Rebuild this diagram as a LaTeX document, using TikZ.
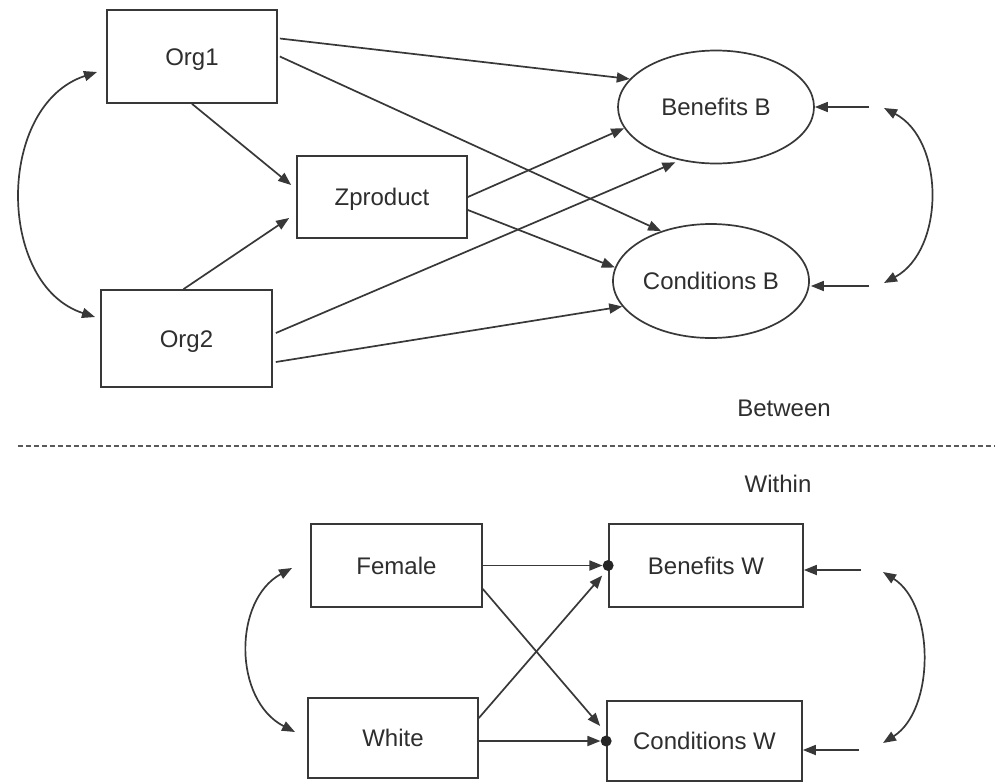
\documentclass[tikz,border=0pt]{standalone}
\usepackage{fontspec}
\setmainfont{Liberation Sans}
\usetikzlibrary{arrows.meta,shapes.geometric}
\begin{document}
\begin{tikzpicture}[x=1pt,y=-1pt,
  ink/.style={draw=black!78, line width=1.7pt},
  txt/.style={text=black!82, font=\fontsize{24}{28}\selectfont, text height=17pt, text depth=0pt},
  varbox/.style={ink, txt, rectangle, inner sep=0pt},
  latent/.style={ink, txt, ellipse, inner sep=0pt},
  reg/.style={ink, -{Triangle[length=13pt,width=10pt]}},
  covar/.style={ink, {Triangle[length=13pt,width=10pt]}-{Triangle[length=13pt,width=10pt]}},
  joint/.style={circle, fill=black!85, inner sep=0pt, minimum size=11pt},
  caption/.style={txt, inner sep=0pt}]
\useasboundingbox (0,0) rectangle (995,782);
\fill[white] (0,0) rectangle (995,782);

% ---------- between-level model ----------
\node[varbox, minimum width=170pt, minimum height=93pt] (org1) at (192,56.5) {Org1};
\node[varbox, minimum width=170pt, minimum height=82pt] (zp) at (382,197) {Zproduct};
\node[varbox, minimum width=171pt, minimum height=97pt] (org2) at (186.5,338.5) {Org2};
\node[latent, minimum width=196pt, minimum height=113pt] (bb) at (716,107) {Benefits B};
\node[latent, minimum width=196pt, minimum height=114pt] (cb) at (711,281) {Conditions B};

\draw[reg] ([yshift=18pt,xshift=2pt]org1.east) -- (bb.162.6);
\draw[reg] ([xshift=2pt]org1.east) -- (cb.135);
\draw[reg] (org1.south) -- ([xshift=-5pt,yshift=12pt]zp.west);
\draw[reg] ([xshift=-3pt]org2.north) -- ([xshift=-7pt,yshift=-21pt]zp.west);
\draw[reg] (zp.east) -- (bb.193);
\draw[reg] ([yshift=-13pt]zp.east) -- (cb.172.8);
\draw[reg, shorten >=5pt] ([xshift=3pt,yshift=5.5pt]org2.east) -- (bb.236.8);
\draw[reg] ([xshift=3pt,yshift=-23.5pt]org2.east) -- (cb.196.9);

% residuals and their covariance
\coordinate (rbb) at (869,107);
\coordinate (rcb) at (869,286);
\draw[reg] (rbb) -- (bb.east);
\draw[reg] (rcb) -- ([yshift=-5pt,xshift=1pt]cb.east);
\coordinate (cbt) at (884,108);
\coordinate (cbb) at (884,283);
\draw[covar] (cbt) .. controls (945,140) and (945,250) .. (cbb);

% exogenous covariance
\coordinate (clt) at (97,72);
\coordinate (clb) at (95,317);
\draw[covar] (clt) .. controls (-4,105) and (-4,285) .. (clb);

% ---------- level separator ----------
\node[caption] (between) at (784,408) {Between};
\coordinate (sepl) at (18,446);
\coordinate (sepr) at (995,446);
\draw[black!65, line width=1.6pt, dash pattern=on 5pt off 3pt] (sepl) -- (sepr);
\node[caption] (within) at (778,484) {Within};

% ---------- within-level model ----------
\node[varbox, minimum width=171pt, minimum height=83pt] (fe) at (396.5,565.5) {Female};
\node[varbox, minimum width=170pt, minimum height=80pt] (wh) at (393,738) {White};
\node[varbox, minimum width=194pt, minimum height=83pt] (bw) at (706,565.5) {Benefits W};
\node[varbox, minimum width=195pt, minimum height=80pt] (cw) at (704.5,741) {Conditions W};
\node[joint] (dbw) at (bw.west) {};
\node[joint] (dcw) at (cw.west) {};

\draw[reg] (fe.east) -- (dbw);
\draw[reg] ([yshift=-23.5pt]fe.east) -- ([shift={(-6pt,15pt)}]dcw.center);
\draw[reg] ([yshift=20pt]wh.east) -- ([shift={(-6pt,-10pt)}]dbw.center);
\draw[reg] (wh.east |- dcw) -- (dcw);

\coordinate (rbw) at (861,570);
\coordinate (rcw) at (859,750);
\draw[reg] (rbw) -- (bw.east |- rbw);
\draw[reg] (rcw) -- (cw.east |- rcw);
\coordinate (cwt) at (883,572);
\coordinate (cwb) at (883,743);
\draw[covar] (cwt) .. controls (935,605) and (935,710) .. (cwb);

\coordinate (cft) at (292,568);
\coordinate (cfb) at (295,732);
\draw[covar] (cft) .. controls (233,600) and (233,700) .. (cfb);
\end{tikzpicture}
\end{document}
